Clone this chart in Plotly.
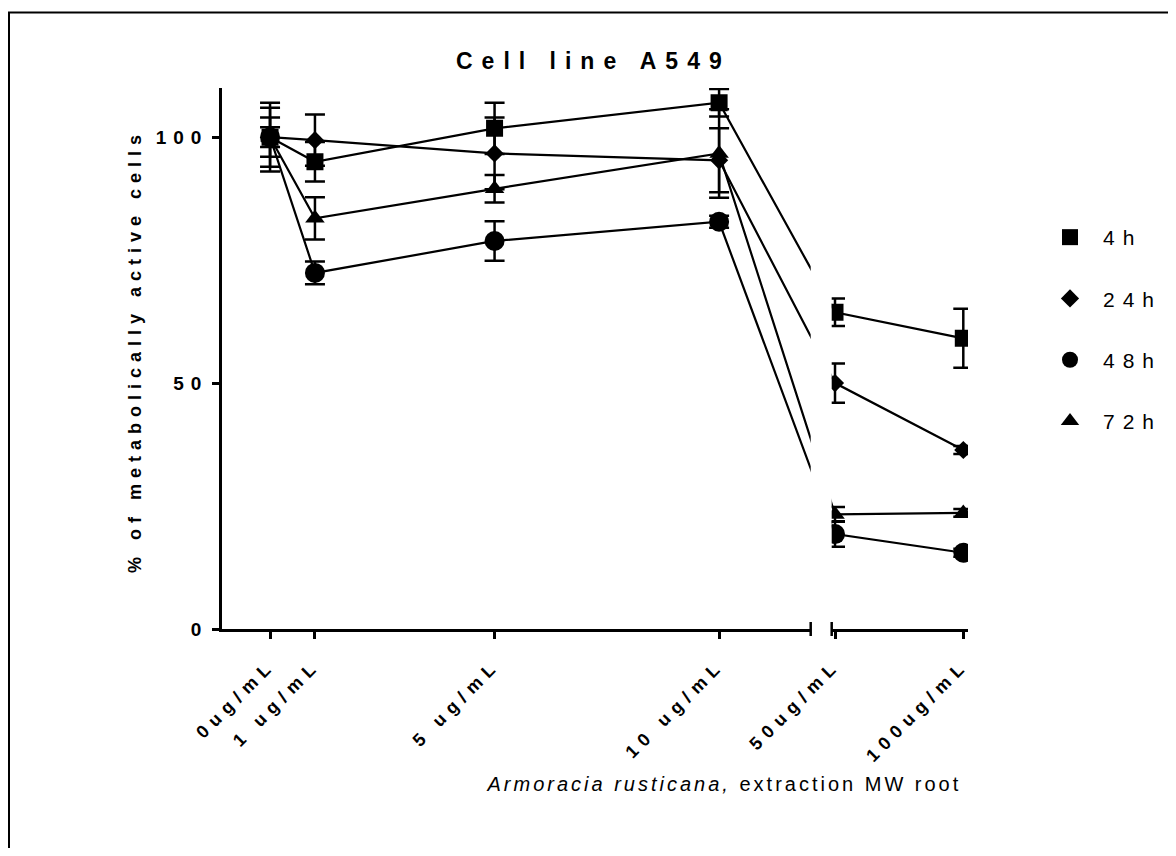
import json
import plotly.graph_objects as go

# ---------------- data ----------------
conc_low = [0, 1, 5, 10]
conc_high = [50, 100]
labels_low = ["0ug/mL", "1 ug/mL", "5 ug/mL", "10 ug/mL"]
labels_high = ["50ug/mL", "100ug/mL"]
y_ticks = [0, 50, 100]

series_names = ["4h", "24h", "48h", "72h"]
mean_4h = [100.0, 95.0, 101.8, 107.0, 64.4, 59.1]
sd_4h = [7.0, 4.0, 5.2, 2.8, 2.8, 6.0]
mean_24h = [100.0, 99.4, 96.7, 95.3, 50.0, 36.4]
sd_24h = [6.0, 5.2, 7.3, 6.5, 4.0, 0.8]
mean_48h = [100.0, 72.4, 78.9, 82.8, 19.3, 15.5]
sd_48h = [2.0, 2.3, 4.0, 1.2, 2.6, 0.8]
mean_72h = [100.0, 83.5, 89.5, 96.7, 23.3, 23.6]
sd_72h = [4.0, 4.3, 2.8, 9.0, 1.5, 0.8]

means = [mean_4h, mean_24h, mean_48h, mean_72h]
sds = [sd_4h, sd_24h, sd_48h, sd_72h]
symbols = ["square", "diamond", "circle", "triangle-up"]
msizes = [17, 14, 20, 17]

# ---------------- layout geometry (page pixels, body margin = 8) ----------
OFF = 8
W, H = 1176 - 2 * OFF, 856 - 2 * OFF
L, R, T, B = 222 - OFF, 968 - OFF, 88 - OFF, 629 - OFF
PW, PH = R - L, B - T
d1 = [0.0, (810.7 - OFF - L) / PW]
d2 = [(831.7 - OFF - L) / PW, 1.0]
r1 = [-1.07, 12.04]
r2 = [48.71, 101.83]
yr = [0, 110]
FONT = "Liberation Sans, Arial, Helvetica, sans-serif"


def px(xp):
    return (xp - OFF - L) / PW


def py(yp):
    return (B - (yp - OFF)) / PH


def to_px(v, d, r):
    return L + PW * (d[0] + (d[1] - d[0]) * (v - r[0]) / (r[1] - r[0]))


def from_px(p, d, r):
    return r[0] + (r[1] - r[0]) * ((p - L) / PW - d[0]) / (d[1] - d[0])


# position of the last low point / first high point in the other axis' units
x_high_in_1 = from_px(to_px(conc_high[0], d2, r2), d1, r1)
x_low_in_2 = from_px(to_px(conc_low[-1], d1, r1), d2, r2)

fig = go.Figure()
n_low = len(conc_low)

for i, name in enumerate(series_names):
    m = means[i]
    fig.add_trace(go.Scatter(
        x=conc_low + [x_high_in_1], y=m[:n_low + 1], mode="lines",
        line=dict(color="black", width=2.2), showlegend=False,
        hoverinfo="skip", xaxis="x", yaxis="y"))
    fig.add_trace(go.Scatter(
        x=[x_low_in_2] + conc_high, y=m[n_low - 1:], mode="lines",
        line=dict(color="black", width=2.2), showlegend=False,
        hoverinfo="skip", xaxis="x2", yaxis="y"))

for i, name in enumerate(series_names):
    m, s = means[i], sds[i]
    mk = dict(symbol=symbols[i], size=msizes[i], color="black",
              line=dict(width=0))
    err_low = dict(type="data", array=s[:n_low], visible=True,
                   color="black", thickness=2.5, width=10)
    err_high = dict(type="data", array=s[n_low:], visible=True,
                    color="black", thickness=2.5, width=10)
    fig.add_trace(go.Scatter(
        x=conc_low, y=m[:n_low], mode="markers", marker=mk,
        error_y=err_low, name=name, legendgroup=name, showlegend=True,
        xaxis="x", yaxis="y"))
    fig.add_trace(go.Scatter(
        x=conc_high, y=m[n_low:], mode="markers", marker=mk,
        error_y=err_high, name=name, legendgroup=name, showlegend=False,
        xaxis="x2", yaxis="y"))

axis_common = dict(
    showline=True, linecolor="black", linewidth=2.5, showgrid=False,
    zeroline=False, ticks="outside", ticklen=7, tickwidth=2.5,
    tickcolor="black", tickangle=-45, ticklabelstandoff=9,
    tickfont=dict(family=FONT, size=18, color="black", weight="bold"),
    anchor="y", fixedrange=True)

fig.update_layout(
    width=W, height=H,
    margin=dict(l=L, r=W - R, t=T, b=H - B, autoexpand=False),
    paper_bgcolor="white", plot_bgcolor="white",
    font=dict(family=FONT, color="black"),
    xaxis=dict(domain=d1, range=r1, tickvals=conc_low, ticktext=labels_low,
               **axis_common),
    xaxis2=dict(domain=d2, range=r2, tickvals=conc_high,
                ticktext=labels_high, **axis_common),
    yaxis=dict(domain=[0, 1], range=yr, tickvals=y_ticks,
               ticktext=[str(v) for v in y_ticks],
               showline=True, linecolor="black", linewidth=2.5,
               showgrid=False, zeroline=False, ticks="outside", ticklen=7,
               tickwidth=2.5, tickcolor="black", anchor="x",
               ticklabelstandoff=0,
               tickfont=dict(family=FONT, size=19, color="black",
                             weight="bold"), fixedrange=True),
    legend=dict(x=px(1037), y=py(217), xanchor="left",
                yanchor="top", tracegroupgap=31, bgcolor="rgba(0,0,0,0)",
                font=dict(family=FONT, size=21, color="black"),
                itemwidth=56),
    showlegend=True,
)

# titles
fig.add_annotation(text="Cell line A549", xref="paper", yref="paper",
                   x=px(593.5), y=py(61.3), showarrow=False,
                   xanchor="center", yanchor="middle",
                   font=dict(family=FONT, size=23, color="black",
                             weight="bold"))
fig.add_annotation(text="% of metabolically active cells", xref="paper",
                   yref="paper", x=px(135), y=py(351),
                   textangle=-90, showarrow=False, xanchor="center",
                   yanchor="middle",
                   font=dict(family=FONT, size=18, color="black",
                             weight="bold"))
fig.add_annotation(text="<i>Armoracia rusticana,</i> extraction MW root",
                   xref="paper", yref="paper", x=px(724),
                   y=py(784), showarrow=False, xanchor="center",
                   yanchor="middle",
                   font=dict(family=FONT, size=20, color="black"))

# axis break marks
half = 7 / PH
for xp in (d1[1], d2[0]):
    fig.add_shape(type="line", xref="paper", yref="paper", x0=xp, x1=xp,
                  y0=-half, y1=half, line=dict(color="black", width=2.5))

# outer frame (right and bottom edges fall outside the page)
fig.add_shape(type="rect", xref="paper", yref="paper",
              x0=px(9), x1=px(1200), y0=py(880), y1=py(12.5),
              line=dict(color="black", width=2), fillcolor="rgba(0,0,0,0)",
              layer="above")

spacing = {
    "Cell line A549": "9px",
    "% of metabolically active cells": "6px",
    "Armoracia rusticana, extraction MW root": "3px",
}
post = """
var gd = document.getElementById('{plot_id}');
var MAP = %s;
function ls(sel, v){ gd.querySelectorAll(sel).forEach(function(e){ e.style.letterSpacing = v; }); }
ls('.xtick text', '6.5px'); ls('.x2tick text', '6.5px'); ls('.ytick text', '7px');
ls('.legendtext', '8px');
gd.querySelectorAll('.legend .scrollbox, .legend').forEach(function(e){
  e.removeAttribute('clip-path'); e.style.clipPath = 'none';
});
gd.querySelectorAll('.annotation-text').forEach(function(e){
  var v = MAP[e.textContent]; if (v) { e.style.letterSpacing = v; }
});
""" % json.dumps(spacing)

fig.write_html("out.html", post_script=post)
